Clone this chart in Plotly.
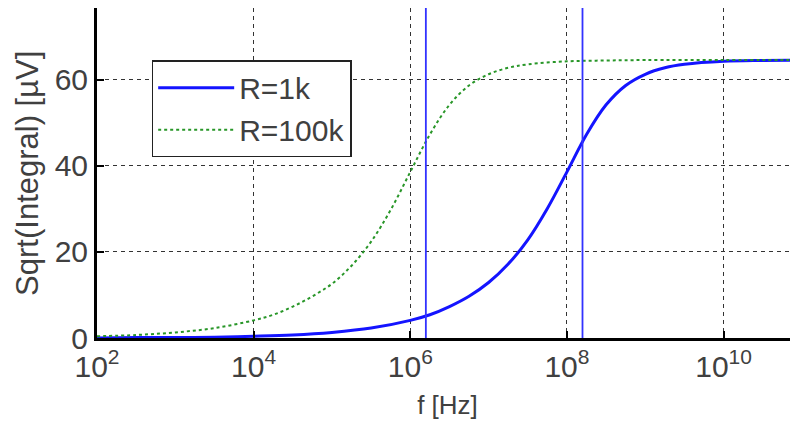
import plotly.graph_objects as go

# frequencies (log10 of Hz) and readings
logf_1k = [2.0, 2.5, 3.0, 3.5, 4.0, 4.5, 5.0, 5.5, 6.0, 6.25, 6.5, 6.75, 7.0, 7.25,
           7.5, 7.75, 8.0, 8.25, 8.5, 8.75, 9.0, 9.25, 9.5, 10.0, 10.5, 11.0]
v_1k = [0.0, 0.1, 0.1, 0.2, 0.4, 0.7, 1.3, 2.3, 4.1, 5.4, 7.3, 9.7, 12.9, 17.2,
        22.8, 30.1, 38.6, 47.3, 54.2, 58.7, 61.3, 62.8, 63.6, 64.3, 64.5, 64.6]

logf_100k = [2.0, 2.5, 3.0, 3.5, 4.0, 4.25, 4.5, 4.75, 5.0, 5.25, 5.5, 5.75, 6.0,
             6.25, 6.5, 6.75, 7.0, 7.25, 7.5, 8.0, 8.5, 9.0, 10.0, 11.0]
v_100k = [0.4, 0.7, 1.3, 2.3, 4.1, 5.4, 7.3, 9.7, 12.6, 16.8, 22.4, 29.8, 38.6,
          47.3, 54.2, 58.7, 61.3, 62.8, 63.6, 64.3, 64.5, 64.6, 64.6, 64.6]

cutoff_freqs = [1.58e6, 1.58e8]

x_tickvals = [1e2, 1e4, 1e6, 1e8, 1e10]
x_ticktext = ["10<sup>2</sup>", "10<sup>4</sup>", "10<sup>6</sup>", "10<sup>8</sup>", "10<sup>10</sup>"]
y_tickvals = [0, 20, 40, 60]

f_1k = [10 ** v for v in logf_1k]
f_100k = [10 ** v for v in logf_100k]

FONT = "Liberation Sans, Arial, sans-serif"
TXT = "#404040"

fig = go.Figure()
fig.add_trace(go.Scatter(x=f_1k, y=v_1k, mode="lines", name="R=1k",
                         line=dict(color="rgb(20,20,255)", width=3, shape="spline")))
fig.add_trace(go.Scatter(x=f_100k, y=v_100k, mode="lines", name="R=100k",
                         line=dict(color="rgb(40,150,40)", width=2, dash="dot", shape="spline")))
for fc in cutoff_freqs:
    fig.add_trace(go.Scatter(x=[fc, fc], y=[0, 76.7], mode="lines", showlegend=False,
                             line=dict(color="rgb(50,50,255)", width=1.8), hoverinfo="skip"))

# the page body adds an 8px offset on the top/left, so the figure is sized for it
fig.update_layout(
    width=790, height=415,
    margin=dict(l=89, r=0, t=0, b=85),
    paper_bgcolor="white", plot_bgcolor="white",
    font=dict(family=FONT, size=28, color=TXT),
    legend=dict(x=0.078, y=0.842, xanchor="left", yanchor="top",
                bgcolor="white", bordercolor="#222", borderwidth=1.5,
                font=dict(size=30, color=TXT), tracegroupgap=0, itemwidth=76),
    showlegend=True,
    annotations=[dict(text="Sqrt(Integral) [µV]", textangle=-90,
                      xref="paper", yref="paper", x=-0.1, y=0.5,
                      xanchor="center", yanchor="middle", showarrow=False,
                      font=dict(size=31, color=TXT))],
)
fig.update_xaxes(
    type="log", range=[2, 10.95], automargin=False,
    tickvals=x_tickvals, ticktext=x_ticktext,
    showgrid=True, gridcolor="#333", griddash="4px,4px", gridwidth=1,
    showline=True, linecolor="black", linewidth=3, mirror=True,
    ticks="inside", ticklen=7, tickwidth=2, tickcolor="black",
    zeroline=False,
    title=dict(text="f [Hz]", font=dict(size=26, color=TXT), standoff=14),
    tickfont=dict(size=30, color=TXT),
)
fig.update_yaxes(
    range=[0, 76.7], automargin=False,
    tickvals=y_tickvals,
    showgrid=True, gridcolor="#333", griddash="4px,4px", gridwidth=1,
    showline=True, linecolor="black", linewidth=3,
    ticks="inside", ticklen=7, tickwidth=2, tickcolor="black",
    zeroline=False,
    tickfont=dict(size=30, color=TXT),
)

fig.write_html("out.html")
